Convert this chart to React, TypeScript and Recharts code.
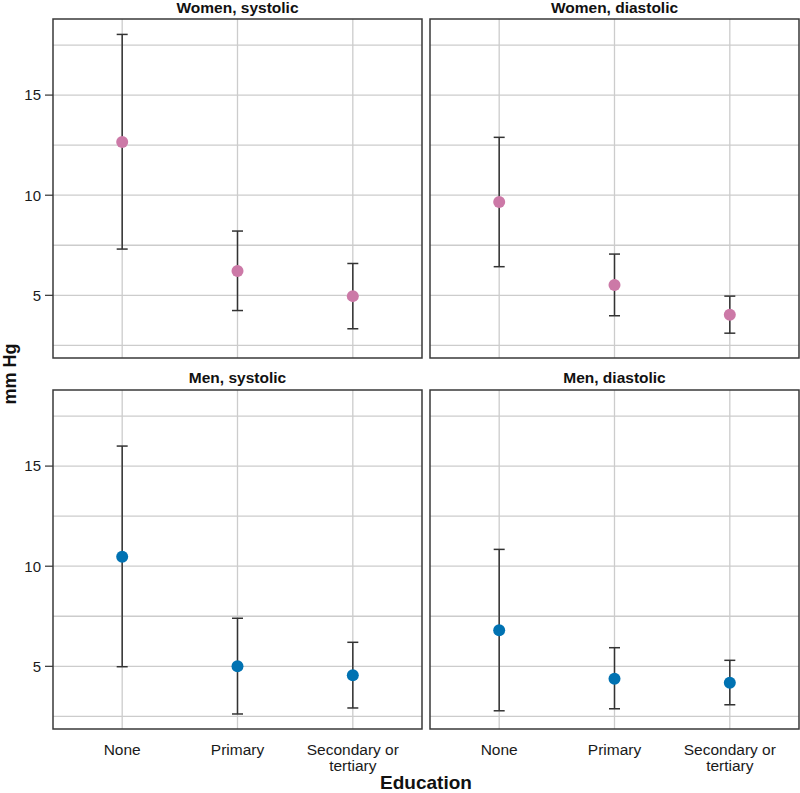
import { ScatterChart, Scatter, XAxis, YAxis, CartesianGrid, ErrorBar, ReferenceArea } from "recharts";

// Education categories, plotted at x = 1, 2, 3
const CATEGORIES = ["None", "Primary", "Secondary or\ntertiary"];
const X_POS = [1, 2, 3];

// Women, systolic
const womenSysMean = [12.66, 6.21, 4.96];
const womenSysLow = [7.31, 4.24, 3.33];
const womenSysHigh = [18.03, 8.21, 6.59];

// Women, diastolic
const womenDiaMean = [9.66, 5.51, 4.03];
const womenDiaLow = [6.43, 3.98, 3.11];
const womenDiaHigh = [12.89, 7.06, 4.96];

// Men, systolic
const menSysMean = [10.47, 5.0, 4.55];
const menSysLow = [4.98, 2.62, 2.92];
const menSysHigh = [16.0, 7.4, 6.2];

// Men, diastolic
const menDiaMean = [6.8, 4.38, 4.18];
const menDiaLow = [2.78, 2.88, 3.08];
const menDiaHigh = [10.84, 5.93, 5.3];

const Y_TICKS = [5, 10, 15];
const Y_GRID = [2.5, 5, 7.5, 10, 12.5, 15, 17.5];
const Y_DOMAIN: [number, number] = [1.87, 18.8];
const X_DOMAIN: [number, number] = [0.4, 3.6];

const PINK = "#cc79a7";
const BLUE = "#0072b2";
const FONT = "'Liberation Sans', Arial, Helvetica, sans-serif";

function toRows(mean: number[], low: number[], high: number[]) {
  return X_POS.map((x, i) => ({
    x,
    y: mean[i],
    err: [mean[i] - low[i], high[i] - mean[i]],
  }));
}

function XTick({ x, y, payload }: any) {
  const lines = CATEGORIES[Math.round(payload.value) - 1].split("\n");
  return (
    <text x={x} y={y} textAnchor="middle" fontSize={15.5} fill="#1a1a1a">
      {lines.map((line, i) => (
        <tspan key={i} x={x} dy={i === 0 ? 26 : 16}>
          {line}
        </tspan>
      ))}
    </text>
  );
}

type PanelProps = {
  mean: number[];
  low: number[];
  high: number[];
  color: string;
  showY: boolean;
  showX: boolean;
  left: number;
  top: number;
};

function Panel({ mean, low, high, color, showY, showX, left, top }: PanelProps) {
  const data = toRows(mean, low, high);
  const yWidth = showY ? 53 : 0;
  const xHeight = showX ? 50 : 0;
  const width = yWidth + 369 + 2 - (showY ? 1 : 0);
  const height = 339 + 2 + xHeight - (showX ? 1 : 0);
  return (
    <div style={{ position: "absolute", left, top }}>
      <ScatterChart
        width={width}
        height={height}
        margin={{ top: 1, right: 1, bottom: showX ? 0 : 1, left: showY ? 0 : 1 }}
      >
        <CartesianGrid
          stroke="#cccccc"
          strokeWidth={1.3}
          horizontalValues={Y_GRID}
          verticalValues={X_POS}
        />
        <XAxis
          type="number"
          dataKey="x"
          domain={X_DOMAIN}
          ticks={X_POS}
          allowDataOverflow
          hide={!showX}
          height={xHeight}
          axisLine={false}
          tickLine={false}
          tickSize={0}
          tickMargin={0}
          interval={0}
          tick={<XTick />}
        />
        <YAxis
          type="number"
          dataKey="y"
          domain={Y_DOMAIN}
          ticks={Y_TICKS}
          allowDataOverflow
          hide={!showY}
          width={yWidth}
          axisLine={false}
          tickLine={{ stroke: "#333", strokeWidth: 1.2 }}
          tickSize={8}
          tickMargin={4}
          tick={{ fontSize: 15, fill: "#1a1a1a" }}
        />
        <ReferenceArea
          x1={X_DOMAIN[0]}
          x2={X_DOMAIN[1]}
          y1={Y_DOMAIN[0]}
          y2={Y_DOMAIN[1]}
          fill="none"
          stroke="#3a3a3a"
          strokeWidth={1.5}
          ifOverflow="visible"
        />
        <Scatter
          data={data}
          isAnimationActive={false}
          shape={(p: any) => <circle cx={p.cx} cy={p.cy} r={6} fill={color} />}
        >
          <ErrorBar dataKey="err" direction="y" width={5.5} stroke="#333" strokeWidth={1.5} />
        </Scatter>
      </ScatterChart>
    </div>
  );
}

export default function App() {
  return (
    <div
      style={{
        position: "absolute",
        left: 0,
        top: 0,
        width: 800,
        height: 793,
        background: "#fff",
        fontFamily: FONT,
      }}
    >
      <Panel mean={womenSysMean} low={womenSysLow} high={womenSysHigh} color={PINK} showY showX={false} left={0} top={18} />
      <Panel mean={womenDiaMean} low={womenDiaLow} high={womenDiaHigh} color={PINK} showY={false} showX={false} left={429} top={18} />
      <Panel mean={menSysMean} low={menSysLow} high={menSysHigh} color={BLUE} showY showX left={0} top={389} />
      <Panel mean={menDiaMean} low={menDiaLow} high={menDiaHigh} color={BLUE} showY={false} showX left={429} top={389} />
      <svg
        width={800}
        height={793}
        style={{ position: "absolute", left: 0, top: 0, pointerEvents: "none" }}
        fontFamily={FONT}
      >
        <text x={237.5} y={13} textAnchor="middle" fontSize={15.5} fontWeight="bold" fill="#111">Women, systolic</text>
        <text x={614.5} y={13} textAnchor="middle" fontSize={15.5} fontWeight="bold" fill="#111">Women, diastolic</text>
        <text x={237.5} y={383} textAnchor="middle" fontSize={15.5} fontWeight="bold" fill="#111">Men, systolic</text>
        <text x={614.5} y={383} textAnchor="middle" fontSize={15.5} fontWeight="bold" fill="#111">Men, diastolic</text>
        <text x={426} y={789} textAnchor="middle" fontSize={19} fontWeight="bold" fill="#111">Education</text>
        <text
          x={0}
          y={0}
          transform="translate(16,374) rotate(-90)"
          textAnchor="middle"
          fontSize={18}
          fontWeight="bold"
          fill="#111"
        >
          mm Hg
        </text>
      </svg>
    </div>
  );
}
